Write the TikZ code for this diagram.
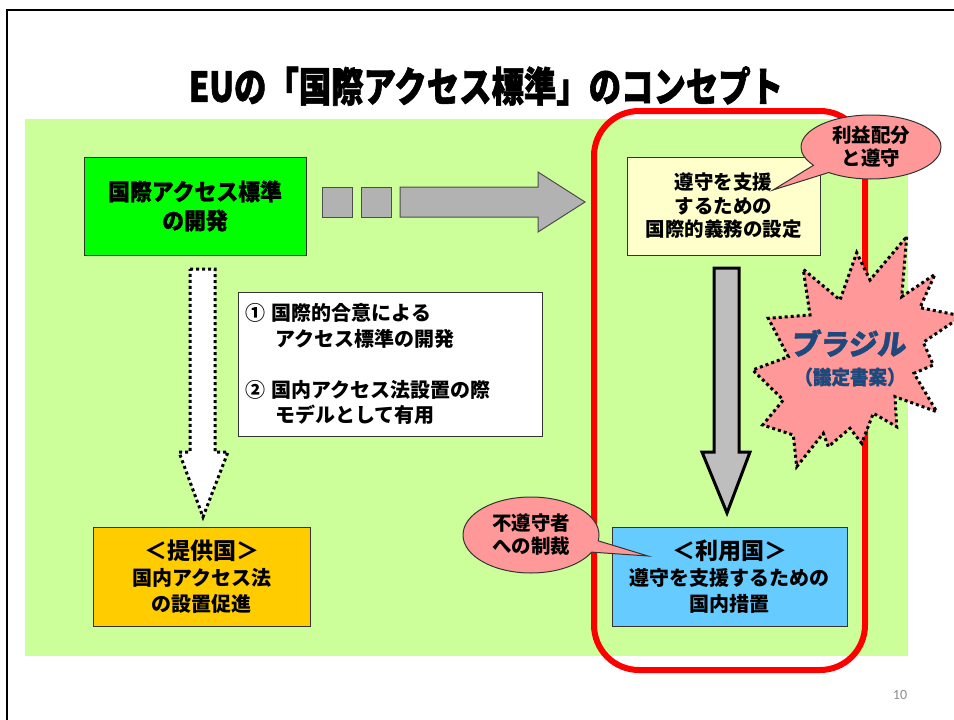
\documentclass[tikz,border=0pt]{standalone}
\usepackage{fontspec}
\usetikzlibrary{shapes.callouts}
\setmainfont{Noto Sans CJK JP}
\newfontfamily\titlefont{Noto Sans CJK JP}[FakeStretch=0.79,BoldFeatures={FakeBold=1.5}]
\newfontfamily\popfont{Noto Sans CJK JP}[FakeStretch=0.95,BoldFeatures={FakeBold=1}]
\newfontfamily\brazilfont{Noto Sans CJK JP}[FakeSlant=0.12,BoldFeatures={FakeBold=1.5}]
\newfontfamily\pagefont{Carlito}
\definecolor{bggreen}{RGB}{204,255,153}
\definecolor{devgreen}{RGB}{0,255,0}
\definecolor{obligyellow}{RGB}{255,255,204}
\definecolor{provorange}{RGB}{255,204,0}
\definecolor{userblue}{RGB}{102,204,255}
\definecolor{calloutpink}{RGB}{255,153,153}
\definecolor{arrowgray}{RGB}{178,178,178}
\definecolor{brazilblue}{RGB}{31,73,125}
\begin{document}
\begin{tikzpicture}[x=1pt,y=-1pt,
  box/.style={draw=black!80,line width=1,inner sep=0,align=center},
  bubble/.style={ellipse callout,draw=black!80,line width=1,fill=calloutpink,inner sep=0,align=center,
    callout pointer arc=18,font=\bfseries\fontsize{19.5}{23}\selectfont},
  blockarrow/.style={fill=arrowgray,draw=black!70,line width=1},
  dots/.style={line width=3,dash pattern=on 3pt off 3pt}]
\useasboundingbox (0,0) rectangle (954,720);
\draw[line width=2.5] (7,720)--(7,10)--(954,10);
\node[font=\titlefont\bfseries\fontsize{41}{41}\selectfont] (title) at (486,86) {EUの「国際アクセス標準」のコンセプト};
\fill[bggreen] (25,119) rectangle (908,656);
\draw[red,line width=6,rounded corners=45] (594,111) rectangle (865,670);
% boxes
\node[box,fill=devgreen,minimum width=222,minimum height=98,font=\popfont\bfseries\fontsize{23}{29}\selectfont] (devel) at (195,206) {国際アクセス標準\\の開発};
\node[box,fill=obligyellow,minimum width=193,minimum height=98,font=\bfseries\fontsize{19.5}{23.5}\selectfont] (oblig) at (723.5,206) {遵守を支援\\するための\\国際的義務の設定};
\node[box,fill=provorange,minimum width=217,minimum height=99,font=\bfseries\fontsize{20}{26}\selectfont] (provider) at (201.5,576.5) {{\fontsize{23}{26}\selectfont ＜提供国＞}\\国内アクセス法\\の設置促進};
\node[box,fill=userblue,minimum width=235,minimum height=99,font=\bfseries\fontsize{20}{26}\selectfont] (user) at (729.5,576.5) {{\fontsize{23}{26}\selectfont ＜利用国＞}\\遵守を支援するための\\国内措置};
\node[box,fill=white,minimum width=304,minimum height=144,text width=290,inner xsep=7,align=left,font=\bfseries\fontsize{20}{25.5}\selectfont] (note) at (390,364)
  {① 国際的合意による\\\hspace*{30pt}アクセス標準の開発\\[25.5pt]② 国内アクセス法設置の際\\\hspace*{30pt}モデルとして有用};
% arrows
\draw[blockarrow] (322,187) rectangle (352,217);
\draw[blockarrow] (361,187) rectangle (391,217);
\draw[blockarrow] (400,187)--(538,187)--(538,172)--(585,202)--(538,232)--(538,217)--(400,217)--cycle;
\draw[dots,fill=white] (190,269)--(215,269)--(215,452)--(228,452)--(203,517)--(179,452)--(190,452)--cycle;
\draw[fill=arrowgray!85!white,draw=black,line width=3] (714,268)--(739,268)--(739,452)--(750,452)--(727,513)--(702,452)--(714,452)--cycle;
% brazil star
\draw[dots,fill=calloutpink] (906.7,236.7)--(901.7,296.7)--(935,274.3)--(920,307.7)--(962,316)--(923.3,342.3)--(933.3,365)--(914,373.3)
  --(936.7,411.7)--(895,396.7)--(896.7,426.7)--(873.3,413.3)--(861.7,443.3)--(850,428.3)--(828.3,446.7)--(823.3,433.3)
  --(796.7,466.7)--(793.3,435)--(762.7,425)--(783.3,400)--(752.7,370)--(788.3,356.7)--(768.3,318.3)--(810,315)
  --(803.3,269.3)--(840,300)--(856.7,252.7)--(870,280)--cycle;
\node[text=brazilblue,font=\brazilfont\bfseries\fontsize{29}{29}\selectfont] (brazil) at (848,343) {ブラジル};
\node[text=brazilblue,font=\popfont\bfseries\fontsize{19.5}{19.5}\selectfont] (protocol) at (850,377) {（議定書案）};
% callouts
\coordinate (tip1) at (773,190);
\coordinate (tip2) at (648,556);
\node[bubble,minimum width=140,minimum height=64,callout absolute pointer={(tip1)}] (share) at (871,147) {利益配分\\と遵守};
\node[bubble,minimum width=136,minimum height=76,callout absolute pointer={(tip2)}] (sanction) at (531,535) {不遵守者\\への制裁};
\node[text=black!45,font=\pagefont\fontsize{14}{14}\selectfont] (page) at (900,695) {10};
\end{tikzpicture}
\end{document}
